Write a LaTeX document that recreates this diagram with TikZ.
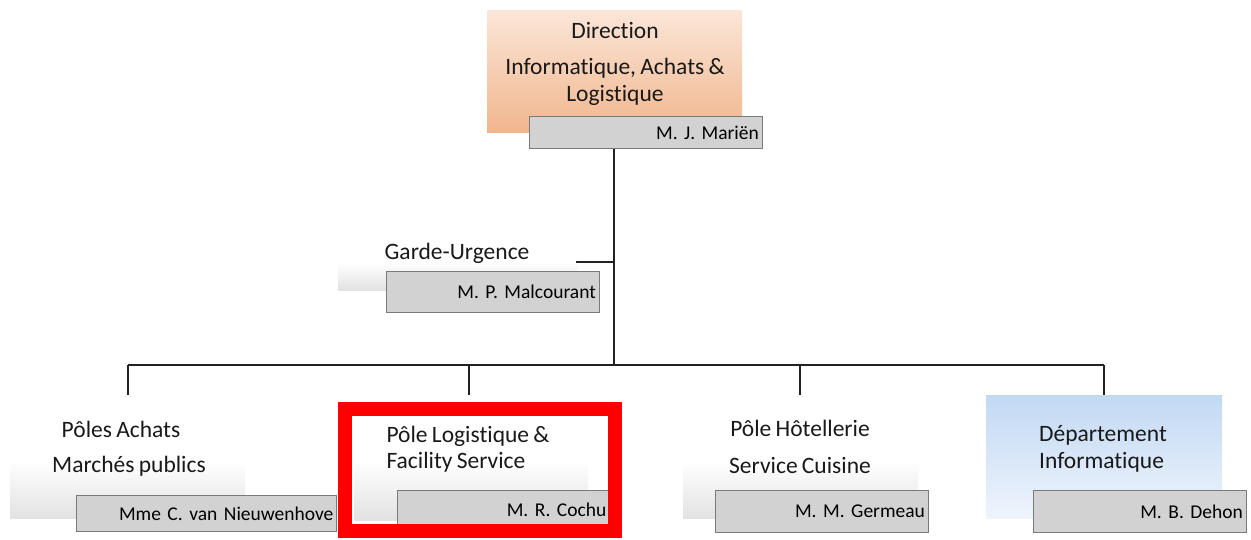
\documentclass[tikz,border=0pt]{standalone}
\usepackage{fontspec}
\setmainfont[Ligatures=NoCommon,WordSpace=0.8]{Carlito}
\frenchspacing
\definecolor{orTop}{HTML}{FBE6D8}
\definecolor{orBot}{HTML}{F1B68E}
\definecolor{blTop}{HTML}{C2D9F4}
\definecolor{blBot}{HTML}{EEF4FC}
\definecolor{nmFill}{HTML}{D2D2D2}
\definecolor{nmLine}{HTML}{7A7A7A}
\definecolor{fadeBot}{HTML}{E2E2E2}
\definecolor{lineC}{HTML}{222222}
\begin{document}
\begin{tikzpicture}[x=1pt,y=-1pt,
  namebox/.style={draw=nmLine,fill=nmFill,line width=0.8pt,anchor=north west,inner sep=0pt,
     font=\fontsize{19.5}{22}\selectfont,align=right},
  fadebox/.style={anchor=north west,inner sep=0pt,top color=white,bottom color=fadeBot,draw=none},
  title/.style={font=\fontsize{23.5}{26.5}\selectfont,inner sep=0pt,text=black!90},
  conn/.style={draw=lineC,line width=1.3pt}]
\useasboundingbox (0,0) rectangle (1251,539);
% top
\node[anchor=north west,minimum width=255pt,minimum height=122pt,top color=orTop,bottom color=orBot,inner sep=0pt] (topbox) at (487,10) {};
\node[title] (t1) at (615,30) {Direction};
\node[title] (t2) at (615,68) {Informatique, Achats \&};
\node[title] (t3) at (615,95) {Logistique};
\node[namebox,minimum width=233pt,minimum height=32pt,text width=226pt] (mj) at (529,116) {M. J. Mariën};
% garde
\node[fadebox,minimum width=240pt,minimum height=28pt] (gbg) at (338,262) {};
\node[title] (gt) at (457,253) {Garde-Urgence};
\node[namebox,minimum width=213pt,minimum height=41pt,text width=206pt] (gm) at (386,271) {M. P. Malcourant};
% bus
\coordinate (busC) at (614,365);
\coordinate (bus1) at (128,365);
\coordinate (bus2) at (469,365);
\coordinate (bus3) at (800,365);
\coordinate (bus4) at (1104,365);
\coordinate (gj) at (576,262);
\draw[conn] (mj.south -| busC) -- (busC);
\draw[conn] (gj) -- (gj -| busC);
\draw[conn] (bus1) -- (bus4);
% bottom 1
\node[fadebox,minimum width=235pt,minimum height=58pt] (b1bg) at (10,460) {};
\node[title] (b1t) at (121,429) {Pôles Achats};
\node[title] (b1u) at (129,466) {Marchés publics};
\node[namebox,minimum width=260pt,minimum height=36pt,text width=254pt] (b1m) at (76,495) {Mme C. van Nieuwenhove};
\coordinate (d1) at (128,395);
% bottom 2
\node[fadebox,minimum width=234pt,minimum height=60pt] (b2bg) at (354,460) {};
\node[title,align=left] (b2t) at (468,449) {Pôle Logistique \&\\Facility Service};
\node[namebox,minimum width=212pt,minimum height=38pt,text width=206pt] (b2m) at (397,490) {M. R. Cochu};
\coordinate (d2) at (469,395);
% bottom 3
\node[fadebox,minimum width=235pt,minimum height=58pt] (b3bg) at (683,460) {};
\node[title] (b3t) at (800,428) {Pôle Hôtellerie};
\node[title] (b3u) at (800,465) {Service Cuisine};
\node[namebox,minimum width=213pt,minimum height=42pt,text width=206pt] (b3m) at (715,490) {M. M. Germeau};
\coordinate (d3) at (800,395);
% bottom 4
\node[anchor=north west,minimum width=236pt,minimum height=123pt,top color=blTop,bottom color=blBot,inner sep=0pt] (b4bg) at (986,395) {};
\node[title,align=left] (b4t) at (1103,449) {Département\\Informatique};
\node[namebox,minimum width=213pt,minimum height=42pt,text width=206pt] (b4m) at (1033,490) {M. B. Dehon};
\coordinate (d4) at (1104,395);
\draw[conn] (bus1) -- (d1);
\draw[conn] (bus2) -- (d2);
\draw[conn] (bus3) -- (d3);
\draw[conn] (bus4) -- (b4bg.north -| bus4);
% red frame
\node[draw=red,line width=14pt,minimum width=270pt,minimum height=122pt,inner sep=0pt] (hl) at (480,470) {};
\end{tikzpicture}
\end{document}
